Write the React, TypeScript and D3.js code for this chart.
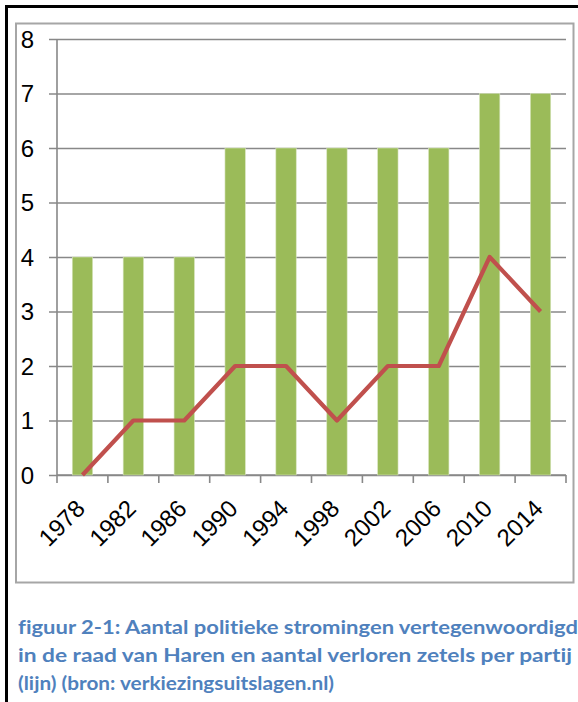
import { useEffect, useRef } from "react";
import * as d3 from "d3";

const WIDTH = 578;
const HEIGHT = 702;
const MARGIN = { top: 39, right: 12, bottom: 227, left: 57 };

// verkiezingsjaren
const years = ["1978", "1982", "1986", "1990", "1994", "1998", "2002", "2006", "2010", "2014"];
// aantal stromingen in de raad (staven)
const stromingen = [4, 4, 4, 6, 6, 6, 6, 6, 7, 7];
// verloren zetels per partij (lijn)
const verloren = [0, 1, 1, 2, 2, 1, 2, 2, 4, 3];
const yTicks = [0, 1, 2, 3, 4, 5, 6, 7, 8];

const captionLines = [
  "figuur 2-1: Aantal politieke stromingen vertegenwoordigd",
  "in de raad van Haren en aantal verloren zetels per partij",
  "(lijn) (bron: verkiezingsuitslagen.nl)",
];
const captionWidths = [560, 554, 316];

const App = () => {
  const axesRef = useRef<SVGGElement | null>(null);
  const boundsWidth = WIDTH - MARGIN.left - MARGIN.right;
  const boundsHeight = HEIGHT - MARGIN.top - MARGIN.bottom;

  const xScale = d3.scaleBand().domain(years).range([0, boundsWidth]).paddingInner(0.6).paddingOuter(0.3);
  const xBand = d3.scaleBand().domain(years).range([0, boundsWidth]);
  const yScale = d3.scaleLinear().domain([0, 8]).range([boundsHeight, 0]);

  const line = d3
    .line<number>()
    .x((_, i) => (xBand(years[i]) ?? 0) + xBand.bandwidth() / 2)
    .y((d) => yScale(d));

  useEffect(() => {
    const g = d3.select(axesRef.current);
    g.selectAll("*").remove();

    // gridlines + y axis
    const yAxis = d3
      .axisLeft(yScale)
      .tickValues(yTicks)
      .tickSize(-boundsWidth)
      .tickFormat(d3.format("d"));
    const ya = g.append("g").call(yAxis);
    ya.select(".domain").remove();
    ya.selectAll(".tick line").attr("x1", -8).attr("stroke", "#888").attr("stroke-width", 1.6);
    ya.selectAll(".tick text")
      .attr("x", -23)
      .attr("dy", "0.35em")
      .attr("font-family", "Liberation Sans, Arial, sans-serif")
      .attr("font-size", 24)
      .attr("fill", "#000");
    ya.append("line")
      .attr("x1", 0)
      .attr("x2", 0)
      .attr("y1", 0)
      .attr("y2", boundsHeight)
      .attr("stroke", "#888")
      .attr("stroke-width", 1.6);

    // x axis ticks between categories
    const xa = g.append("g").attr("transform", `translate(0,${boundsHeight})`);
    xa.append("line")
      .attr("x1", 0)
      .attr("x2", boundsWidth)
      .attr("stroke", "#888")
      .attr("stroke-width", 1.6);
    const edges = years.map((y) => xBand(y) ?? 0).concat([boundsWidth]);
    xa.selectAll("line.tk")
      .data(edges)
      .join("line")
      .attr("class", "tk")
      .attr("x1", (d) => d)
      .attr("x2", (d) => d)
      .attr("y1", 0)
      .attr("y2", 8)
      .attr("stroke", "#888")
      .attr("stroke-width", 1.6);
    xa.selectAll("text")
      .data(years)
      .join("text")
      .attr(
        "transform",
        (d) => `translate(${(xBand(d) ?? 0) + xBand.bandwidth() / 2 + 4},35) rotate(-45)`
      )
      .attr("text-anchor", "end")
      .attr("font-family", "Liberation Sans, Arial, sans-serif")
      .attr("font-size", 24)
      .attr("fill", "#000")
      .text((d) => d);
  }, []);

  return (
    <svg
      width={WIDTH}
      height={HEIGHT}
      style={{ position: "absolute", left: 0, top: 0, background: "#fff" }}
    >
      {/* outer page frame */}
      <line x1={6.5} x2={6.5} y1={5} y2={HEIGHT} stroke="#000" strokeWidth={3} />
      <line x1={5} x2={WIDTH} y1={6.5} y2={6.5} stroke="#000" strokeWidth={3} />
      {/* chart frame */}
      <rect x={16} y={23.5} width={557.5} height={559} fill="#fff" stroke="#a6a6a6" strokeWidth={2} />

      <g transform={`translate(${MARGIN.left},${MARGIN.top})`} ref={axesRef} />
      <g transform={`translate(${MARGIN.left},${MARGIN.top})`}>
        {stromingen.map((v, i) => (
          <rect
            key={years[i]}
            x={xScale(years[i])}
            y={yScale(v)}
            width={xScale.bandwidth()}
            height={yScale(0) - yScale(v)}
            fill="#9bbb59"
            stroke="#d7e4bd"
            strokeWidth={0.6}
          />
        ))}
        <path
          d={line(verloren) ?? ""}
          fill="none"
          stroke="#c0504d"
          strokeWidth={4.2}
          strokeLinejoin="round"
        />
      </g>

      {captionLines.map((t, i) => (
        <text
          key={i}
          x={18}
          y={634 + i * 28}
          fontFamily="Lato, 'Open Sans', sans-serif"
          fontWeight={700}
          fontSize={19.5}
          fill="#4f81bd"
          style={{ fontVariantLigatures: "none" }}
          textLength={captionWidths[i]}
          lengthAdjust="spacingAndGlyphs"
        >
          {t}
        </text>
      ))}
    </svg>
  );
};

export default App;
